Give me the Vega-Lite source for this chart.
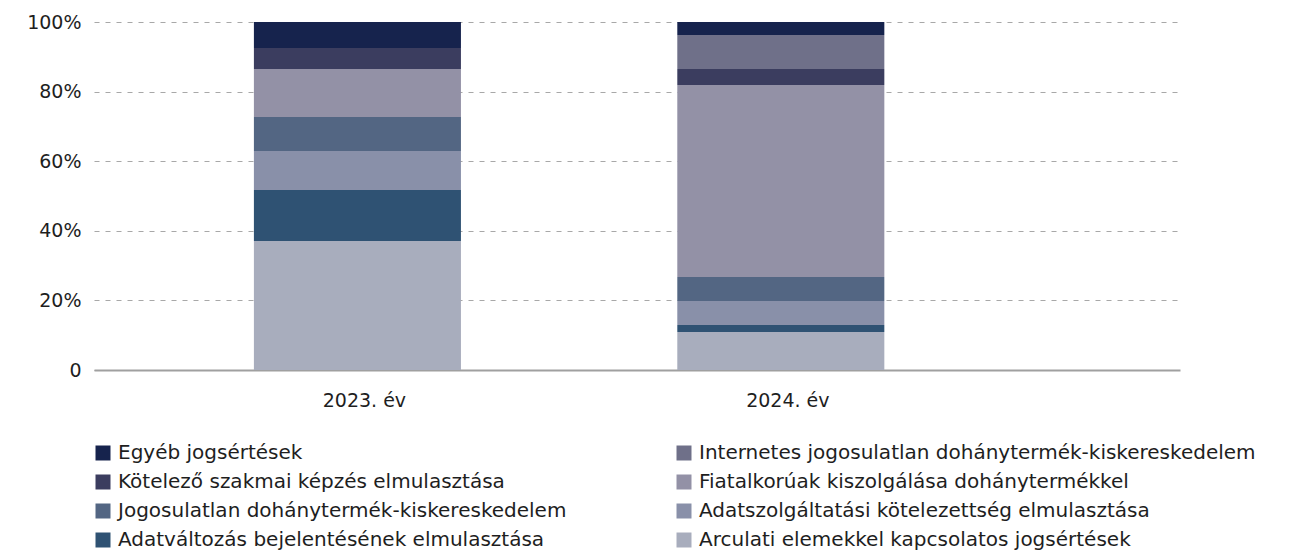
{
  "$schema": "https://vega.github.io/schema/vega-lite/v6.json",
  "autosize": {"type": "none"},
  "padding": {"left": 94, "top": 22, "right": 124, "bottom": 182},
  "width": 1086,
  "height": 348,
  "background": "white",
  "data": {
    "values": [
      {"year": "2023. év", "category": "Egyéb jogsértések", "rank": 8, "value": 7.5},
      {"year": "2023. év", "category": "Internetes jogosulatlan dohánytermék-kiskereskedelem", "rank": 7, "value": 0},
      {"year": "2023. év", "category": "Kötelező szakmai képzés elmulasztása", "rank": 6, "value": 6.0},
      {"year": "2023. év", "category": "Fiatalkorúak kiszolgálása dohánytermékkel", "rank": 5, "value": 13.8},
      {"year": "2023. év", "category": "Jogosulatlan dohánytermék-kiskereskedelem", "rank": 4, "value": 9.8},
      {"year": "2023. év", "category": "Adatszolgáltatási kötelezettség elmulasztása", "rank": 3, "value": 11.2},
      {"year": "2023. év", "category": "Adatváltozás bejelentésének elmulasztása", "rank": 2, "value": 14.6},
      {"year": "2023. év", "category": "Arculati elemekkel kapcsolatos jogsértések", "rank": 1, "value": 37.1},
      {"year": "2024. év", "category": "Egyéb jogsértések", "rank": 8, "value": 3.7},
      {"year": "2024. év", "category": "Internetes jogosulatlan dohánytermék-kiskereskedelem", "rank": 7, "value": 9.8},
      {"year": "2024. év", "category": "Kötelező szakmai képzés elmulasztása", "rank": 6, "value": 4.6},
      {"year": "2024. év", "category": "Fiatalkorúak kiszolgálása dohánytermékkel", "rank": 5, "value": 55.2},
      {"year": "2024. év", "category": "Jogosulatlan dohánytermék-kiskereskedelem", "rank": 4, "value": 6.9},
      {"year": "2024. év", "category": "Adatszolgáltatási kötelezettség elmulasztása", "rank": 3, "value": 6.9},
      {"year": "2024. év", "category": "Adatváltozás bejelentésének elmulasztása", "rank": 2, "value": 2.0},
      {"year": "2024. év", "category": "Arculati elemekkel kapcsolatos jogsértések", "rank": 1, "value": 10.9}
    ]
  },
  "mark": {"type": "bar"},
  "encoding": {
    "x": {
      "field": "year",
      "type": "nominal",
      "scale": {"paddingInner": 0.511, "paddingOuter": 0.538, "align": 0.351},
      "axis": {
        "title": null,
        "labelAngle": 0,
        "ticks": false,
        "labelPadding": 21,
        "labelOffset": 7,
        "labelFontSize": 19,
        "labelColor": "#1e1e1e",
        "domainColor": "#a0a0a0",
        "domainWidth": 1.8,
        "grid": false
      }
    },
    "y": {
      "field": "value",
      "type": "quantitative",
      "stack": "zero",
      "scale": {"domain": [0, 100], "nice": false},
      "axis": {
        "title": null,
        "values": [0, 20, 40, 60, 80, 100],
        "labelExpr": "datum.value == 0 ? '0' : datum.value + '%'",
        "ticks": false,
        "domain": false,
        "labelPadding": 13,
        "labelFontSize": 19,
        "labelColor": "#1e1e1e",
        "gridColor": "#a8a8a8",
        "gridDash": [5, 6],
        "gridWidth": 1.2
      }
    },
    "order": {"field": "rank", "type": "quantitative", "sort": "ascending"},
    "color": {
      "field": "category",
      "type": "nominal",
      "scale": {
        "domain": [
          "Egyéb jogsértések",
          "Kötelező szakmai képzés elmulasztása",
          "Jogosulatlan dohánytermék-kiskereskedelem",
          "Adatváltozás bejelentésének elmulasztása",
          "Internetes jogosulatlan dohánytermék-kiskereskedelem",
          "Fiatalkorúak kiszolgálása dohánytermékkel",
          "Adatszolgáltatási kötelezettség elmulasztása",
          "Arculati elemekkel kapcsolatos jogsértések"
        ],
        "range": ["#16234d", "#3b3d5f", "#536683", "#2f5273", "#6f7089", "#9391a6", "#8990a9", "#a8adbd"]
      },
      "legend": {
        "title": null,
        "orient": "none",
        "legendX": -1,
        "legendY": 421,
        "columns": 2,
        "columnPadding": 107,
        "rowPadding": 9,
        "symbolType": "square",
        "symbolSize": 225,
        "symbolStrokeWidth": 0,
        "symbolOpacity": 1,
        "labelFontSize": 20,
        "labelColor": "#1e1e1e",
        "labelOffset": 5,
        "labelLimit": 700
      }
    }
  },
  "config": {
    "view": {"stroke": null},
    "font": "DejaVu Sans"
  }
}
